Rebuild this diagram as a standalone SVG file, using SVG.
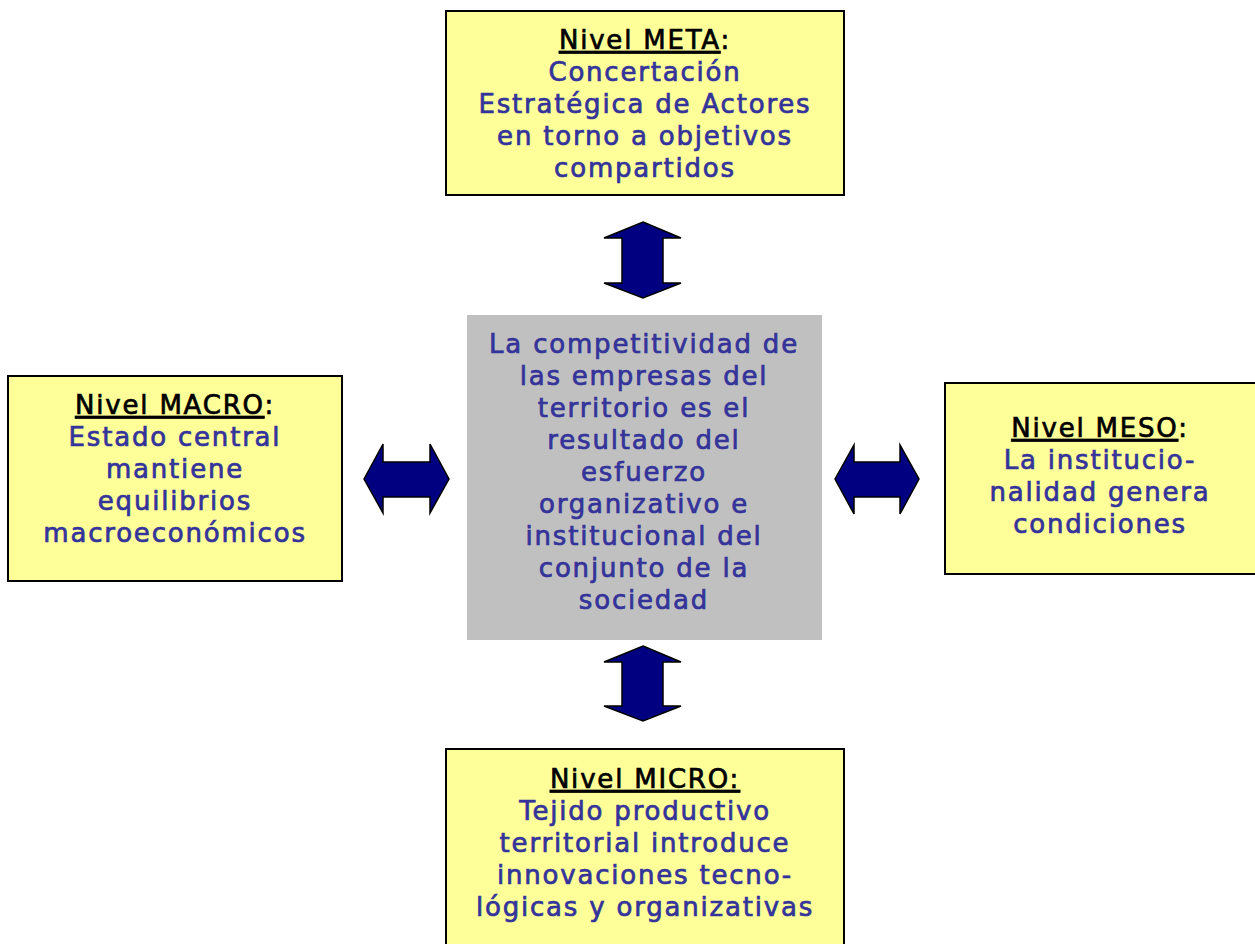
<svg xmlns="http://www.w3.org/2000/svg" width="1255" height="944" viewBox="0 0 1255 944">
<style>
.box{fill:#FFFF99;stroke:#000;stroke-width:2}
.center{fill:#C0C0C0}
.t{font-family:"DejaVu Sans","Liberation Sans",sans-serif;font-size:26px;letter-spacing:1.8px;text-anchor:middle;fill:#333399;stroke:#333399;stroke-width:0.7px}
.h{fill:#000;stroke:#000}
.u{text-decoration:underline}
.arr{fill:#000080;stroke:#000;stroke-width:1.5;stroke-linejoin:miter}
</style>
<rect width="1255" height="944" fill="#fff"/>
<g id="center">
<rect class="center" x="467" y="315" width="355" height="325"/>
<text class="t" x="644" y="353">La competitividad de</text>
<text class="t" x="644" y="385">las empresas del</text>
<text class="t" x="644" y="417">territorio es el</text>
<text class="t" x="644" y="449">resultado del</text>
<text class="t" x="644" y="481">esfuerzo</text>
<text class="t" x="644" y="513">organizativo e</text>
<text class="t" x="644" y="545">institucional del</text>
<text class="t" x="644" y="577">conjunto de la</text>
<text class="t" x="644" y="609">sociedad</text>
</g>
<g id="meta">
<rect class="box" x="446" y="11" width="398" height="184"/>
<text class="t h" x="645" y="49"><tspan class="u">Nivel META</tspan>:</text>
<text class="t" x="645" y="81">Concertación</text>
<text class="t" x="645" y="113">Estratégica de Actores</text>
<text class="t" x="645" y="145">en torno a objetivos</text>
<text class="t" x="645" y="177">compartidos</text>
</g>
<g id="macro">
<rect class="box" x="8" y="376" width="334" height="205"/>
<text class="t h" x="175" y="414"><tspan class="u">Nivel MACRO</tspan>:</text>
<text class="t" x="175" y="446">Estado central</text>
<text class="t" x="175" y="478">mantiene</text>
<text class="t" x="175" y="510">equilibrios</text>
<text class="t" x="175" y="542">macroeconómicos</text>
</g>
<g id="meso">
<rect class="box" x="945" y="383" width="320" height="191"/>
<text class="t h" x="1100" y="437"><tspan class="u">Nivel MESO</tspan>:</text>
<text class="t" x="1100" y="469">La institucio-</text>
<text class="t" x="1100" y="501">nalidad genera</text>
<text class="t" x="1100" y="533">condiciones</text>
</g>
<g id="micro">
<rect class="box" x="446" y="749" width="398" height="210"/>
<text class="t h" x="645" y="788"><tspan class="u">Nivel MICRO:</tspan></text>
<text class="t" x="645" y="820">Tejido productivo</text>
<text class="t" x="645" y="852">territorial introduce</text>
<text class="t" x="645" y="884">innovaciones tecno-</text>
<text class="t" x="645" y="916">lógicas y organizativas</text>
</g>
<g id="connectors">
<polygon class="arr" points="643,222 681,238 663,238 663,283 681,283 643,298 604,283 622,283 622,238 604,238"/>
<polygon class="arr" points="643,646 681,662 663,662 663,706 681,706 643,721 604,706 622,706 622,662 604,662"/>
<polygon class="arr" points="364,479 383,444 383,462 430,462 430,444 449,479 430,513 430,497 383,497 383,513"/>
<polygon class="arr" points="835,479 854,445 854,462 900,462 900,445 919,479 900,514 900,497 854,497 854,514"/>
</g>
</svg>
